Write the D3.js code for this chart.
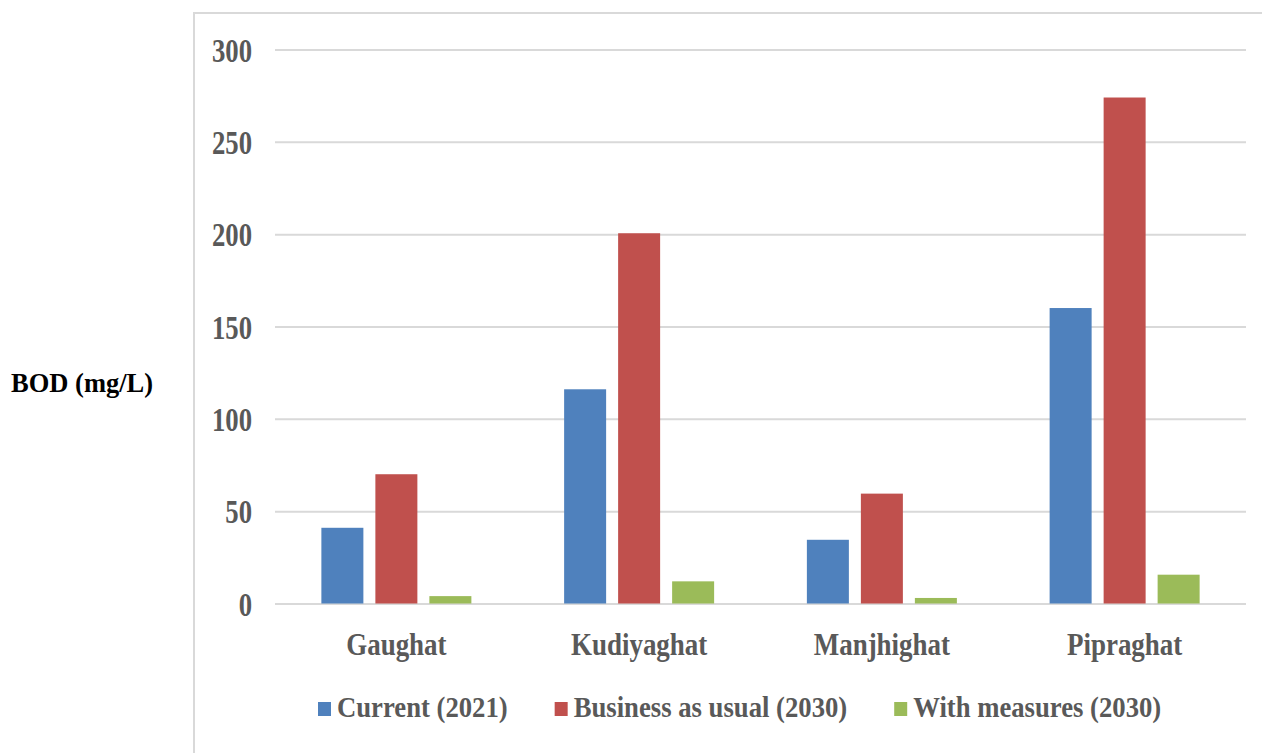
<!DOCTYPE html>
<html>
<head>
<meta charset="utf-8">
<script src="https://cdn.jsdelivr.net/npm/d3@7"></script>
<style>
    body { margin: 0; background: #fff; }
    svg { display: block; }
    .lbl { font-family: "Liberation Serif", "Times New Roman", serif; font-weight: bold; fill: #595959; }
</style>
</head>
<body>
<div id="chart"></div>
<script>
// values
const categories = ["Gaughat", "Kudiyaghat", "Manjhighat", "Pipraghat"];
const seriesNames = ["Current (2021)", "Business as usual (2030)", "With measures (2030)"];
const current = [41, 116, 34.5, 160];
const businessAsUsual = [70, 200.5, 59.5, 274];
const withMeasures = [4, 12, 3, 15.6];
const yTicks = [0, 50, 100, 150, 200, 250, 300];
const colors = ["#4f81bd", "#c0504d", "#9bbb59"];

const seriesValues = [current, businessAsUsual, withMeasures];

const width = 1262, height = 753;
const margin = { left: 275, right: 16, top: 49.5, bottom: 149.5 };
const plotW = width - margin.left - margin.right;
const plotH = height - margin.top - margin.bottom;

const svg = d3.select("#chart")
    .append("svg")
    .attr("width", width)
    .attr("height", height);

// chart frame (runs off the right and bottom edges)
svg.append("rect")
    .attr("x", 194)
    .attr("y", 13)
    .attr("width", 1200)
    .attr("height", 900)
    .attr("fill", "none")
    .attr("stroke", "#d9d9d9")
    .attr("stroke-width", 2);

// y axis title, outside the frame
svg.append("text")
    .text("BOD (mg/L)")
    .attr("x", 11)
    .attr("y", 392)
    .style("font-family", '"Liberation Serif", "Times New Roman", serif')
    .style("font-weight", "bold")
    .style("font-size", "26.5px")
    .style("fill", "#000");

const g = svg.append("g")
    .attr("transform", `translate(${margin.left},${margin.top})`);

const x0 = d3.scaleBand()
    .domain(categories)
    .range([0, plotW]);

const x1 = d3.scaleBand()
    .domain(seriesNames)
    .range([-75, 75])
    .paddingInner(12 / 54);

const y = d3.scaleLinear()
    .domain([0, 300])
    .range([plotH, 0]);

// gridlines + tick labels
const tickScale = 0.81;
const yAxis = g.append("g")
    .call(d3.axisLeft(y)
        .tickValues(yTicks)
        .tickSize(-plotW)
        .tickPadding(23));
yAxis.select(".domain").remove();
yAxis.selectAll(".tick line")
    .attr("stroke", "#d9d9d9")
    .attr("stroke-width", 2);
yAxis.selectAll(".tick text")
    .attr("class", "lbl")
    .attr("x", -23 / tickScale)
    .attr("dy", "0.35em")
    .attr("transform", `scale(${tickScale},1)`)
    .style("font-size", "33px");

// bars
const groups = g.selectAll(".cat")
    .data(categories)
    .join("g")
    .attr("class", "cat")
    .attr("transform", d => `translate(${x0(d) + x0.bandwidth() / 2},0)`);

groups.selectAll("rect")
    .data((d, i) => seriesNames.map((s, j) => ({ s, j, v: seriesValues[j][i] })))
    .join("rect")
    .attr("x", d => x1(d.s))
    .attr("width", x1.bandwidth())
    .attr("y", d => y(d.v))
    .attr("height", d => plotH - y(d.v))
    .attr("fill", d => colors[d.j]);

// category labels
const catScale = 0.87;
g.selectAll(".catlbl")
    .data(categories)
    .join("text")
    .attr("class", "lbl catlbl")
    .attr("text-anchor", "middle")
    .attr("transform", d => `translate(${x0(d) + x0.bandwidth() / 2},${plotH + 51.5}) scale(${catScale},1)`)
    .style("font-size", "31px")
    .text(d => d);

// legend
const legScale = 0.89;
const legend = svg.append("g")
    .attr("transform", "translate(318,717)");
let lx = 0;
seriesNames.forEach((name, i) => {
    const item = legend.append("g").attr("transform", `translate(${lx},0)`);
    item.append("rect")
        .attr("x", 0)
        .attr("y", -15)
        .attr("width", 13)
        .attr("height", 14)
        .attr("fill", colors[i]);
    const t = item.append("text")
        .attr("class", "lbl")
        .attr("transform", `translate(19,0) scale(${legScale},1)`)
        .style("font-size", "30px")
        .text(name);
    lx += 19 + t.node().getComputedTextLength() * legScale + 47;
});
</script>
</body>
</html>
